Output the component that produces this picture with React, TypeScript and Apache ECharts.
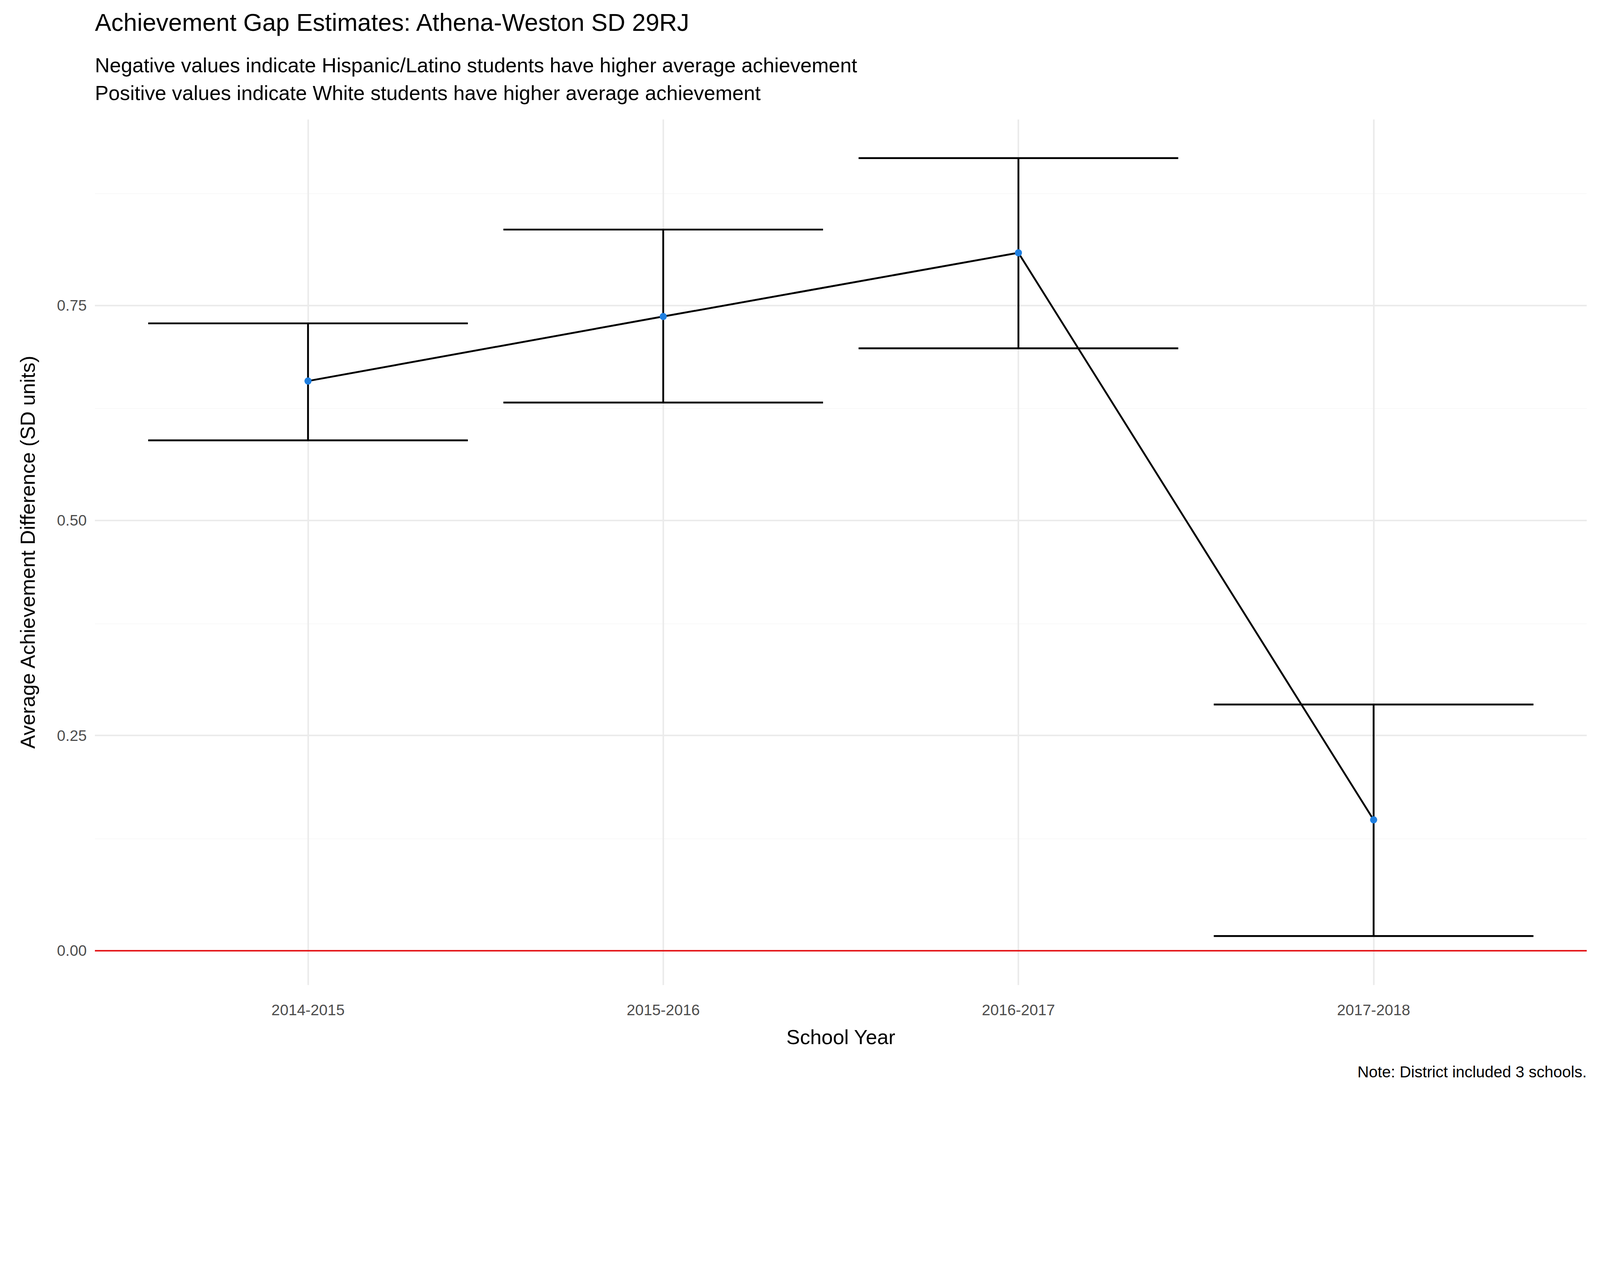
import { useEffect, useRef } from 'react';
import * as echarts from 'echarts';

const years = ['2014-2015', '2015-2016', '2016-2017', '2017-2018'];
const gapEstimates = [0.662, 0.737, 0.811, 0.152];
const lowerBounds = [0.593, 0.637, 0.700, 0.017];
const upperBounds = [0.729, 0.838, 0.921, 0.286];
const yMajorTicks = [0, 0.25, 0.5, 0.75];
const yMinorTicks = [0.125, 0.375, 0.625, 0.875];

const FONT = 'Liberation Sans, Arial, sans-serif';

export default function App() {
  const ref = useRef<HTMLDivElement>(null);

  useEffect(() => {
    if (!ref.current) return;
    const chart = echarts.init(ref.current, null, { renderer: 'svg' });
    const w = ref.current.clientWidth;
    const h = ref.current.clientHeight;
    const s = w / 1568;
    const xs = years.map((_, i) => i + 1);

    const option: any = {
      animation: false,
      backgroundColor: '#ffffff',
      grid: { left: 93 * s, right: w - 1555 * s, top: 117 * s, bottom: h - 965 * s },
      xAxis: {
        type: 'value',
        min: 0.4,
        max: 4.6,
        axisLine: { show: false },
        axisTick: { show: false },
        splitLine: { show: false },
        axisLabel: {
          customValues: xs,
          formatter: (v: number) => years[Math.round(v) - 1] ?? '',
          color: '#4d4d4d',
          fontSize: 15 * s,
          fontFamily: FONT,
          margin: 17 * s,
        },
      },
      yAxis: {
        type: 'value',
        min: -0.04,
        max: 0.966,
        axisLine: { show: false },
        axisTick: { show: false },
        splitLine: { show: false },
        axisLabel: {
          customValues: yMajorTicks,
          formatter: (v: number) => v.toFixed(2),
          color: '#4d4d4d',
          fontSize: 15 * s,
          fontFamily: FONT,
          margin: 8 * s,
        },
      },
      graphic: [
        { type: 'text', x: 93 * s, y: 22 * s, style: { text: 'Achievement Gap Estimates: Athena-Weston SD 29RJ', fontSize: 24 * s, fontFamily: FONT, fill: '#000', verticalAlign: 'middle' } },
        { type: 'text', x: 93 * s, y: 64 * s, style: { text: 'Negative values indicate Hispanic/Latino students have higher average achievement', fontSize: 20 * s, fontFamily: FONT, fill: '#000', verticalAlign: 'middle' } },
        { type: 'text', x: 93 * s, y: 91 * s, style: { text: 'Positive values indicate White students have higher average achievement', fontSize: 20 * s, fontFamily: FONT, fill: '#000', verticalAlign: 'middle' } },
        { type: 'text', x: 824 * s, y: 1016 * s, style: { text: 'School Year', fontSize: 20 * s, fontFamily: FONT, fill: '#000', align: 'center', verticalAlign: 'middle' } },
        { type: 'text', x: 1555 * s, y: 1050 * s, style: { text: 'Note: District included 3 schools.', fontSize: 15.5 * s, fontFamily: FONT, fill: '#000', align: 'right', verticalAlign: 'middle' } },
        { type: 'text', x: 27 * s, y: 541 * s, rotation: Math.PI / 2, style: { text: 'Average Achievement Difference (SD units)', fontSize: 20 * s, fontFamily: FONT, fill: '#000', align: 'center', verticalAlign: 'middle' } },
      ],
      series: [
        {
          type: 'line',
          data: [],
          silent: true,
          z: 0,
          markLine: {
            silent: true,
            symbol: 'none',
            z: 0,
            label: { show: false },
            data: [
              ...yMinorTicks.map((v) => ({ yAxis: v, lineStyle: { color: '#f2f2f2', width: 1, type: 'solid' } })),
              ...yMajorTicks.filter((v) => v !== 0).map((v) => ({ yAxis: v, lineStyle: { color: '#ebebeb', width: 1.6 * s, type: 'solid' } })),
              ...xs.map((v) => ({ xAxis: v, lineStyle: { color: '#ebebeb', width: 1.6 * s, type: 'solid' } })),
            ],
          },
        },
        {
          type: 'line',
          data: [],
          silent: true,
          z: 1,
          markLine: {
            silent: true,
            symbol: 'none',
            label: { show: false },
            data: [{ yAxis: 0, lineStyle: { color: '#e41a1c', width: 1.6 * s, type: 'solid' } }],
          },
        },
        {
          type: 'custom',
          z: 3,
          data: xs.map((x, i) => [x, lowerBounds[i], upperBounds[i]]),
          encode: { x: 0, y: [1, 2] },
          renderItem: (_params: any, api: any) => {
            const x = api.value(0);
            const lo = api.coord([x, api.value(1)]);
            const hi = api.coord([x, api.value(2)]);
            const l = api.coord([x - 0.45, api.value(1)])[0];
            const r = api.coord([x + 0.45, api.value(1)])[0];
            const style = { stroke: '#000', lineWidth: 1.8 * s };
            return {
              type: 'group',
              children: [
                { type: 'line', shape: { x1: lo[0], y1: lo[1], x2: hi[0], y2: hi[1] }, style },
                { type: 'line', shape: { x1: l, y1: lo[1], x2: r, y2: lo[1] }, style },
                { type: 'line', shape: { x1: l, y1: hi[1], x2: r, y2: hi[1] }, style },
              ],
            };
          },
        },
        {
          type: 'line',
          z: 5,
          data: xs.map((x, i) => [x, gapEstimates[i]]),
          lineStyle: { color: '#000', width: 1.8 * s },
          symbol: 'circle',
          symbolSize: 7 * s,
          itemStyle: { color: '#1f7fe0' },
        },
      ],
    };

    chart.setOption(option);
    return () => chart.dispose();
  }, []);

  return <div ref={ref} style={{ position: 'fixed', left: 0, top: 0, width: '100vw', height: '100vh' }} />;
}
